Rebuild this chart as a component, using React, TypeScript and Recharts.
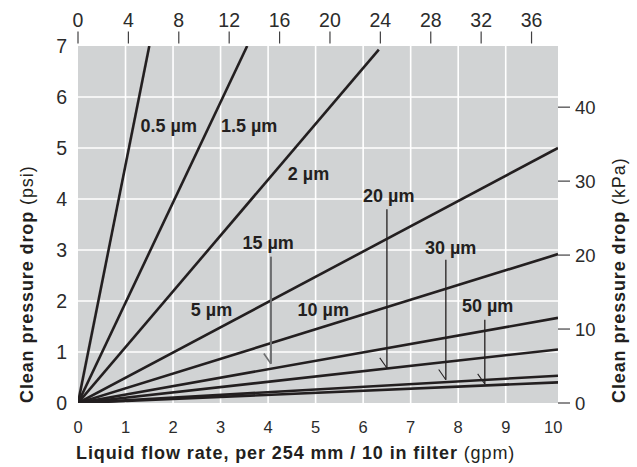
import React from 'react';
import { LineChart, Line, XAxis, YAxis, CartesianGrid, ReferenceLine, ReferenceDot } from 'recharts';

// filter grades and where each curve leaves the plot (gpm, psi)
const GRADES = ['0.5 µm', '1.5 µm', '2 µm', '5 µm', '10 µm', '15 µm', '20 µm', '30 µm', '50 µm'];
const END_FLOW = [1.5, 3.56, 6.33, 10.1, 10.1, 10.1, 10.1, 10.1, 10.1];
const END_DROP = [7, 7, 6.93, 5.0, 2.92, 1.67, 1.05, 0.535, 0.405];

// label anchor points (gpm, psi)
const LABEL_FLOW = [1.91, 3.6, 4.85, 2.81, 5.16, 4.0, 6.54, 7.84, 8.62];
const LABEL_DROP = [5.43, 5.43, 4.49, 1.83, 1.83, 3.14, 4.06, 3.04, 1.9];

// leader lines for the crowded curves
const POINTER_GRADES = ['15 µm', '20 µm', '30 µm', '50 µm'];
const POINTER_FLOW = [4.06, 6.5, 7.74, 8.56];
const POINTER_FROM = [2.87, 3.8, 2.81, 1.63];
const POINTER_TO = [0.77, 0.685, 0.456, 0.372];

const GPM_TICKS = [0, 1, 2, 3, 4, 5, 6, 7, 8, 9, 10];
const PSI_TICKS = [0, 1, 2, 3, 4, 5, 6, 7];
const LPM_TICKS = [0, 4, 8, 12, 16, 20, 24, 28, 32, 36];
const KPA_TICKS = [0, 10, 20, 30, 40];
const GRID_GPM = [1, 2, 3, 4, 5, 6, 7, 8, 9];
const GRID_PSI = [1, 2, 3, 4, 5, 6];

const GPM_MAX = 10.1;
const LPM_MAX = 38.1;
const PSI_MAX = 7;
const KPA_MAX = 48.27;

const W = 637;
const H = 467;
const PLOT_TOP = 46;
const INK = '#231f20';
const TICK_INK = '#2b2b2b';
const FONT = '"Liberation Sans", Arial, Helvetica, sans-serif';

const series = GRADES.map((g, i) => ({
  name: g,
  points: [
    { x: 0, y: 0 },
    { x: END_FLOW[i], y: END_DROP[i] },
  ],
}));

// invisible helper so the top (l/min) axis gets a scale
const lpmSpan = [
  { x: 0, y: 0 },
  { x: LPM_MAX, y: 0 },
];

const topTick = (props: any) => {
  const { x, payload } = props;
  return (
    <g>
      <line x1={x} x2={x} y1={PLOT_TOP - 14.5} y2={PLOT_TOP - 2.5} stroke="#414042" strokeWidth={1.2} />
      <text x={x} y={PLOT_TOP - 19.5} textAnchor="middle" fontSize={19.5} fontFamily={FONT} fill={TICK_INK}>
        {payload.value}
      </text>
    </g>
  );
};

const titleStyle = { fontSize: 18, fontFamily: FONT, fill: INK, letterSpacing: 0.9 };

export default function App() {
  return (
    <div style={{ position: 'absolute', left: 0, top: 0, width: W, height: H, background: '#fff' }}>
      <LineChart width={W} height={H} margin={{ top: 0, right: 0, bottom: 0, left: 0 }}>
        <CartesianGrid xAxisId="gpm" yAxisId="psi" horizontal={false} vertical={false} fill="#d1d3d4" fillOpacity={1} />
        <XAxis
          xAxisId="gpm"
          type="number"
          dataKey="x"
          domain={[0, GPM_MAX]}
          ticks={GPM_TICKS}
          allowDataOverflow
          height={64}
          axisLine={false}
          tickLine={false}
          tickMargin={12}
          tick={{ fontSize: 16.5, fill: TICK_INK, fontFamily: FONT }}
          label={(p: any) => (
            <text x={p.viewBox.x - 2} y={p.viewBox.y + 56} {...titleStyle}>
              <tspan fontWeight={700}>Liquid flow rate, per 254 mm / 10 in filter</tspan>
              <tspan> (gpm)</tspan>
            </text>
          )}
        />
        <XAxis
          xAxisId="lpm"
          orientation="top"
          type="number"
          dataKey="x"
          domain={[0, LPM_MAX]}
          ticks={LPM_TICKS}
          interval={0}
          allowDataOverflow
          height={PLOT_TOP}
          axisLine={false}
          tickLine={false}
          tick={topTick}
        />
        <YAxis
          yAxisId="psi"
          type="number"
          domain={[0, PSI_MAX]}
          ticks={PSI_TICKS}
          allowDataOverflow
          width={78}
          axisLine={false}
          tickLine={false}
          tickMargin={5}
          tick={{ fontSize: 19.5, fill: TICK_INK, fontFamily: FONT }}
          label={(p: any) => {
            const x = 33;
            const y = p.viewBox.y + p.viewBox.height;
            return (
              <text x={x} y={y} transform={`rotate(-90, ${x}, ${y})`} {...titleStyle}>
                <tspan fontWeight={700}>Clean pressure drop</tspan>
                <tspan> (psi)</tspan>
              </text>
            );
          }}
        />
        <YAxis
          yAxisId="kpa"
          orientation="right"
          type="number"
          domain={[0, KPA_MAX]}
          ticks={KPA_TICKS}
          allowDataOverflow
          width={79}
          axisLine={false}
          tickSize={12}
          tickLine={{ stroke: '#414042', strokeWidth: 1.2 }}
          tickMargin={5}
          tick={{ fontSize: 18.5, fill: TICK_INK, fontFamily: FONT }}
          label={(p: any) => {
            const x = p.viewBox.x + 67;
            const y = p.viewBox.y + p.viewBox.height;
            return (
              <text x={x} y={y} transform={`rotate(-90, ${x}, ${y})`} {...titleStyle}>
                <tspan fontWeight={700}>Clean pressure drop</tspan>
                <tspan> (kPa)</tspan>
              </text>
            );
          }}
        />

        {GRID_GPM.map((v) => (
          <ReferenceLine key={'gx' + v} xAxisId="gpm" yAxisId="psi" x={v} stroke="#fff" strokeWidth={1.6} />
        ))}
        {GRID_PSI.map((v) => (
          <ReferenceLine key={'gy' + v} xAxisId="gpm" yAxisId="psi" y={v} stroke="#fff" strokeWidth={1.6} />
        ))}

        <Line
          xAxisId="lpm"
          yAxisId="psi"
          data={lpmSpan}
          dataKey="y"
          stroke="none"
          dot={false}
          activeDot={false}
          isAnimationActive={false}
        />

        {series.map((s) => (
          <Line
            key={s.name}
            xAxisId="gpm"
            yAxisId="psi"
            data={s.points}
            dataKey="y"
            type="linear"
            stroke={INK}
            strokeWidth={2.6}
            dot={false}
            activeDot={false}
            isAnimationActive={false}
          />
        ))}

        {POINTER_GRADES.map((g, i) => {
          const first = i === 0;
          const color = first ? '#6d6e70' : INK;
          const sw = first ? 2 : 1.3;
          return (
            <React.Fragment key={'p' + g}>
              <ReferenceLine
                xAxisId="gpm"
                yAxisId="psi"
                segment={[
                  { x: POINTER_FLOW[i], y: POINTER_FROM[i] },
                  { x: POINTER_FLOW[i], y: POINTER_TO[i] },
                ]}
                stroke={color}
                strokeWidth={sw}
              />
              <ReferenceLine
                xAxisId="gpm"
                yAxisId="psi"
                segment={[
                  { x: POINTER_FLOW[i] - 0.15, y: POINTER_TO[i] + 0.2 },
                  { x: POINTER_FLOW[i], y: POINTER_TO[i] },
                ]}
                stroke={color}
                strokeWidth={sw * 0.8}
              />
            </React.Fragment>
          );
        })}

        {GRADES.map((g, i) => (
          <ReferenceDot
            key={'l' + g}
            xAxisId="gpm"
            yAxisId="psi"
            x={LABEL_FLOW[i]}
            y={LABEL_DROP[i]}
            r={0}
            fill="none"
            stroke="none"
            label={{ value: g, position: 'center', fontSize: 18, fontWeight: 700, fill: INK, fontFamily: FONT }}
          />
        ))}
      </LineChart>
    </div>
  );
}
